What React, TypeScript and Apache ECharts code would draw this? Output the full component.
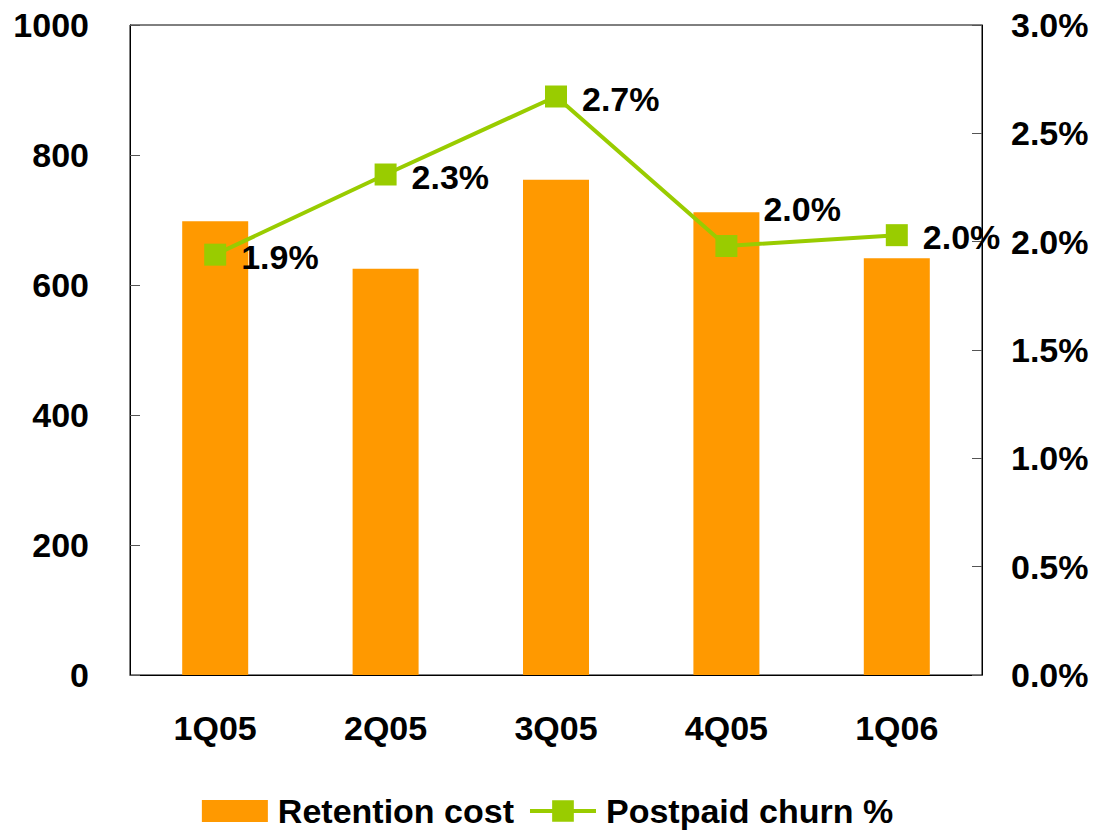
import React, { useEffect, useRef } from "react";
import * as echarts from "echarts";

const categories = ["1Q05", "2Q05", "3Q05", "4Q05", "1Q06"];
const retentionCost = [698, 625, 762, 712, 641];
const churnPct = [1.94, 2.31, 2.67, 1.98, 2.03];
const churnLabels = ["1.9%", "2.3%", "2.7%", "2.0%", "2.0%"];
const leftTicks = ["0", "200", "400", "600", "800", "1000"];
const rightTicks = ["0.0%", "0.5%", "1.0%", "1.5%", "2.0%", "2.5%", "3.0%"];

const FONT = "'Liberation Sans', Arial, sans-serif";
const LINE_ICON = "path://M0,9L67,9L67,13L0,13Z M22.5,0L44.5,0L44.5,22L22.5,22Z";

export default function App() {
  const ref = useRef<HTMLDivElement>(null);
  useEffect(() => {
    if (!ref.current) return;
    const chart = echarts.init(ref.current, undefined, { renderer: "svg" });
    const textBase = { fontFamily: FONT, fontWeight: "bold" as const, fontSize: 34, color: "#000" };
    chart.setOption({
      animation: false,
      grid: {
        left: 130,
        right: 113,
        top: 25,
        bottom: 155,
        show: true,
        borderColor: "#000",
        borderWidth: 1,
      },
      legend: {
        bottom: -3,
        left: "center",
        itemWidth: 66,
        itemHeight: 22,
        itemGap: 16,
        textStyle: { ...textBase, fontSize: 34, padding: [0, 0, 0, 5] },
        data: [
          { name: "Retention cost", icon: "rect" },
          {
            name: "Postpaid churn %",
            icon: LINE_ICON,
            itemStyle: { color: "#99CC00", borderWidth: 0 },
            lineStyle: { width: 0 },
          },
        ],
      },
      xAxis: {
        type: "category",
        data: categories,
        axisLine: { lineStyle: { color: "#000", width: 1 } },
        axisTick: { show: false },
        axisLabel: { ...textBase, margin: 36 },
      },
      yAxis: [
        {
          type: "value",
          min: 0,
          max: 1000,
          interval: 200,
          axisLine: { show: true, lineStyle: { color: "#000" } },
          axisTick: { show: true, inside: true, length: 10, lineStyle: { color: "#555" } },
          splitLine: { show: false },
          axisLabel: {
            ...textBase,
            margin: 41,
            formatter: (v: number) => leftTicks[Math.round(v / 200)] ?? "",
          },
        },
        {
          type: "value",
          min: 0,
          max: 3,
          interval: 0.5,
          position: "right",
          axisLine: { show: true, lineStyle: { color: "#000" } },
          axisTick: { show: true, inside: true, length: 10, lineStyle: { color: "#555" } },
          splitLine: { show: false },
          axisLabel: {
            ...textBase,
            margin: 29,
            formatter: (v: number) => rightTicks[Math.round(v / 0.5)] ?? "",
          },
        },
      ],
      series: [
        {
          name: "Retention cost",
          type: "bar",
          yAxisIndex: 0,
          data: retentionCost,
          barWidth: 66,
          itemStyle: { color: "#FF9900" },
        },
        {
          name: "Postpaid churn %",
          type: "line",
          yAxisIndex: 1,
          data: churnPct.map((v, i) => ({
            value: v,
            label: i === 3 ? { offset: [11, -37] } : { offset: [0, 2] },
          })),
          symbol: "rect",
          symbolSize: 22,
          lineStyle: { color: "#99CC00", width: 4 },
          itemStyle: { color: "#99CC00" },
          label: {
            show: true,
            position: "right",
            distance: 15,
            ...textBase,
            formatter: (p: any) => churnLabels[p.dataIndex],
          },
        },
      ],
    });
    return () => chart.dispose();
  }, []);
  return <div ref={ref} style={{ width: 1095, height: 830, position: "absolute", left: 0, top: 0 }} />;
}
